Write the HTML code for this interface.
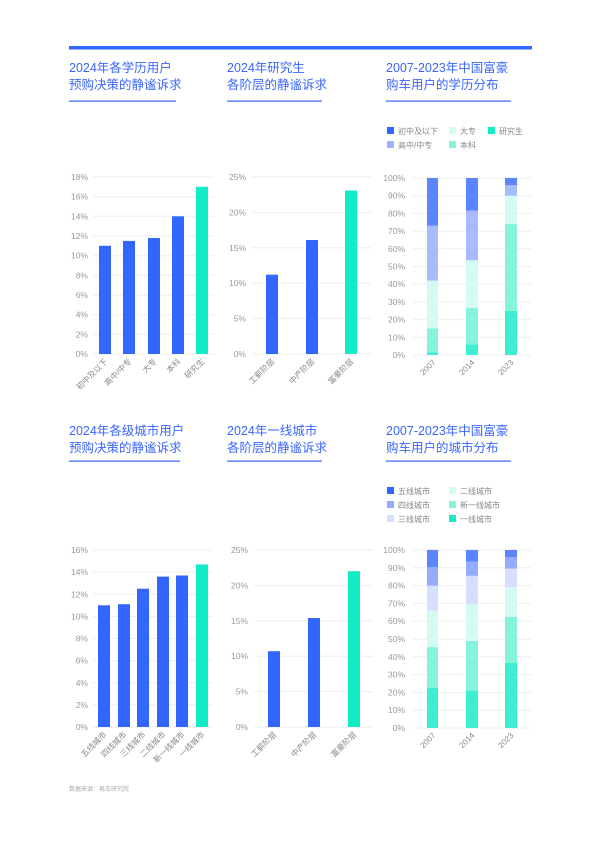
<!DOCTYPE html>
<html><head><meta charset="utf-8"><style>
html,body{margin:0;padding:0;background:#fff}
svg{display:block}
text{font-family:"Liberation Sans","Noto Sans CJK SC",sans-serif}
.t{fill:#3a66ff;font-size:12.5px}
.a{fill:#999;font-size:8.5px}
.l{fill:#888;font-size:8px}
.g{stroke:#eee;stroke-width:1}
</style></head><body>
<svg width="600" height="842" viewBox="0 0 600 842" xmlns="http://www.w3.org/2000/svg">
<rect x="69" y="46" width="463" height="3.5" fill="#3366ff"/>
<!-- titles -->
<text class="t" x="69" y="72">2024年各学历用户</text><text class="t" x="69" y="89">预购决策的静谧诉求</text>
<rect x="69" y="100.5" width="107" height="1.2" fill="#3366ff"/>
<text class="t" x="227" y="72">2024年研究生</text><text class="t" x="227" y="89">各阶层的静谧诉求</text>
<rect x="227" y="100.5" width="95" height="1.2" fill="#3366ff"/>
<text class="t" x="386" y="72">2007-2023年中国富豪</text><text class="t" x="386" y="89">购车用户的学历分布</text>
<rect x="386" y="100.5" width="125" height="1.2" fill="#3366ff"/>

<text class="t" x="69" y="435">2024年各级城市用户</text><text class="t" x="69" y="452">预购决策的静谧诉求</text>
<rect x="69" y="460.5" width="111" height="1.2" fill="#3366ff"/>
<text class="t" x="227" y="435">2024年一线城市</text><text class="t" x="227" y="452">各阶层的静谧诉求</text>
<rect x="227" y="460.5" width="95" height="1.2" fill="#3366ff"/>
<text class="t" x="386" y="435">2007-2023年中国富豪</text><text class="t" x="386" y="452">购车用户的城市分布</text>
<rect x="386" y="460.5" width="125" height="1.2" fill="#3366ff"/>

<!-- chart1 -->
<g class="g">
<line x1="93" x2="214" y1="354" y2="354"/><line x1="93" x2="214" y1="334.3" y2="334.3"/><line x1="93" x2="214" y1="314.7" y2="314.7"/><line x1="93" x2="214" y1="295" y2="295"/><line x1="93" x2="214" y1="275.3" y2="275.3"/><line x1="93" x2="214" y1="255.7" y2="255.7"/><line x1="93" x2="214" y1="236" y2="236"/><line x1="93" x2="214" y1="216.3" y2="216.3"/><line x1="93" x2="214" y1="196.7" y2="196.7"/><line x1="93" x2="214" y1="177" y2="177"/>
</g>
<g class="a" text-anchor="end">
<text x="88" y="357">0%</text><text x="88" y="337.3">2%</text><text x="88" y="317.7">4%</text><text x="88" y="298">6%</text><text x="88" y="278.3">8%</text><text x="88" y="258.7">10%</text><text x="88" y="239">12%</text><text x="88" y="219.3">14%</text><text x="88" y="199.7">16%</text><text x="88" y="180">18%</text>
</g>
<rect x="99" y="245.8" width="12" height="108.2" fill="#3366ff"/>
<rect x="123" y="240.9" width="12" height="113.1" fill="#3366ff"/>
<rect x="148" y="238" width="12" height="116" fill="#3366ff"/>
<rect x="172" y="216.3" width="12" height="137.7" fill="#3366ff"/>
<rect x="196" y="186.8" width="12" height="167.2" fill="#12ecc6"/>
<g class="l" text-anchor="end">
<text transform="translate(108,362) rotate(-45)">初中及以下</text>
<text transform="translate(132,362) rotate(-45)">高中/中专</text>
<text transform="translate(157,362) rotate(-45)">大专</text>
<text transform="translate(181,362) rotate(-45)">本科</text>
<text transform="translate(205,362) rotate(-45)">研究生</text>
</g>

<!-- chart2 -->
<g class="g">
<line x1="252" x2="371" y1="354" y2="354"/><line x1="252" x2="371" y1="318.6" y2="318.6"/><line x1="252" x2="371" y1="283.2" y2="283.2"/><line x1="252" x2="371" y1="247.8" y2="247.8"/><line x1="252" x2="371" y1="212.4" y2="212.4"/><line x1="252" x2="371" y1="177" y2="177"/>
</g>
<g class="a" text-anchor="end">
<text x="246" y="357">0%</text><text x="246" y="321.6">5%</text><text x="246" y="286.2">10%</text><text x="246" y="250.8">15%</text><text x="246" y="215.4">20%</text><text x="246" y="180">25%</text>
</g>
<rect x="266" y="274.7" width="12" height="79.3" fill="#3366ff"/>
<rect x="306" y="240" width="12" height="114" fill="#3366ff"/>
<rect x="345" y="190.5" width="12" height="163.5" fill="#12ecc6"/>
<g class="l" text-anchor="end">
<text transform="translate(275,362) rotate(-45)">工薪阶层</text>
<text transform="translate(315,362) rotate(-45)">中产阶层</text>
<text transform="translate(354,362) rotate(-45)">富豪阶层</text>
</g>

<!-- chart3 legend -->
<rect x="387" y="127" width="7" height="7" fill="#3366ff"/><text class="l" x="398" y="134">初中及以下</text>
<rect x="449" y="127" width="7" height="7" fill="#d4fbf3"/><text class="l" x="460" y="134">大专</text>
<rect x="488" y="127" width="7" height="7" fill="#12ecc6"/><text class="l" x="499" y="134">研究生</text>
<rect x="387" y="141" width="7" height="7" fill="#9cb3ff"/><text class="l" x="398" y="148">高中/中专</text>
<rect x="449" y="141" width="7" height="7" fill="#86f4dd"/><text class="l" x="460" y="148">本科</text>
<!-- chart3 -->
<g class="g">
<line x1="413" x2="531" y1="355" y2="355"/><line x1="413" x2="531" y1="337.3" y2="337.3"/><line x1="413" x2="531" y1="319.6" y2="319.6"/><line x1="413" x2="531" y1="301.9" y2="301.9"/><line x1="413" x2="531" y1="284.2" y2="284.2"/><line x1="413" x2="531" y1="266.5" y2="266.5"/><line x1="413" x2="531" y1="248.8" y2="248.8"/><line x1="413" x2="531" y1="231.1" y2="231.1"/><line x1="413" x2="531" y1="213.4" y2="213.4"/><line x1="413" x2="531" y1="195.7" y2="195.7"/><line x1="413" x2="531" y1="178" y2="178"/>
</g>
<g class="a" text-anchor="end">
<text x="405" y="358">0%</text><text x="405" y="340.3">10%</text><text x="405" y="322.6">20%</text><text x="405" y="304.9">30%</text><text x="405" y="287.2">40%</text><text x="405" y="269.5">50%</text><text x="405" y="251.8">60%</text><text x="405" y="234.1">70%</text><text x="405" y="216.4">80%</text><text x="405" y="198.7">90%</text><text x="405" y="181">100%</text>
</g>
<!-- 2007 -->
<rect x="427" y="352.3" width="11" height="2.7" fill="#3deed0"/>
<rect x="427" y="328.4" width="11" height="23.9" fill="#86f4dd"/>
<rect x="427" y="280.6" width="11" height="47.8" fill="#d4fbf3"/>
<rect x="427" y="225.7" width="11" height="54.9" fill="#a9bbff"/>
<rect x="427" y="178" width="11" height="47.7" fill="#5a85ff"/>
<!-- 2014 -->
<rect x="466" y="344.4" width="12" height="10.6" fill="#3deed0"/>
<rect x="466" y="308.1" width="12" height="36.3" fill="#86f4dd"/>
<rect x="466" y="260.3" width="12" height="47.8" fill="#d4fbf3"/>
<rect x="466" y="210.7" width="12" height="49.6" fill="#a9bbff"/>
<rect x="466" y="178" width="12" height="32.7" fill="#5a85ff"/>
<!-- 2023 -->
<rect x="505" y="310.75" width="12" height="44.25" fill="#3deed0"/>
<rect x="505" y="224" width="12" height="86.75" fill="#86f4dd"/>
<rect x="505" y="195.7" width="12" height="28.3" fill="#d4fbf3"/>
<rect x="505" y="185.1" width="12" height="10.6" fill="#a9bbff"/>
<rect x="505" y="178" width="12" height="7.1" fill="#5a85ff"/>
<g class="l" text-anchor="end">
<text transform="translate(436,363) rotate(-45)">2007</text>
<text transform="translate(475,363) rotate(-45)">2014</text>
<text transform="translate(514,363) rotate(-45)">2023</text>
</g>

<!-- chart4 -->
<g class="g">
<line x1="93" x2="212" y1="727" y2="727"/><line x1="93" x2="212" y1="704.9" y2="704.9"/><line x1="93" x2="212" y1="682.75" y2="682.75"/><line x1="93" x2="212" y1="660.6" y2="660.6"/><line x1="93" x2="212" y1="638.5" y2="638.5"/><line x1="93" x2="212" y1="616.4" y2="616.4"/><line x1="93" x2="212" y1="594.25" y2="594.25"/><line x1="93" x2="212" y1="572.1" y2="572.1"/><line x1="93" x2="212" y1="550" y2="550"/>
</g>
<g class="a" text-anchor="end">
<text x="88" y="730">0%</text><text x="88" y="707.9">2%</text><text x="88" y="685.75">4%</text><text x="88" y="663.6">6%</text><text x="88" y="641.5">8%</text><text x="88" y="619.4">10%</text><text x="88" y="597.25">12%</text><text x="88" y="575.1">14%</text><text x="88" y="553">16%</text>
</g>
<rect x="98" y="605.3" width="12" height="121.7" fill="#3366ff"/>
<rect x="118" y="604.2" width="12" height="122.8" fill="#3366ff"/>
<rect x="137" y="588.7" width="12" height="138.3" fill="#3366ff"/>
<rect x="157" y="576.6" width="12" height="150.4" fill="#3366ff"/>
<rect x="176" y="575.5" width="12" height="151.5" fill="#3366ff"/>
<rect x="196" y="564.4" width="12" height="162.6" fill="#12ecc6"/>
<g class="l" text-anchor="end">
<text transform="translate(107,735) rotate(-45)">五线城市</text>
<text transform="translate(127,735) rotate(-45)">四线城市</text>
<text transform="translate(146,735) rotate(-45)">三线城市</text>
<text transform="translate(166,735) rotate(-45)">二线城市</text>
<text transform="translate(185,735) rotate(-45)">新一线城市</text>
<text transform="translate(205,735) rotate(-45)">一线城市</text>
</g>

<!-- chart5 -->
<g class="g">
<line x1="254" x2="373" y1="727" y2="727"/><line x1="254" x2="373" y1="691.6" y2="691.6"/><line x1="254" x2="373" y1="656.2" y2="656.2"/><line x1="254" x2="373" y1="620.8" y2="620.8"/><line x1="254" x2="373" y1="585.4" y2="585.4"/><line x1="254" x2="373" y1="550" y2="550"/>
</g>
<g class="a" text-anchor="end">
<text x="248" y="730">0%</text><text x="248" y="694.6">5%</text><text x="248" y="659.2">10%</text><text x="248" y="623.8">15%</text><text x="248" y="588.4">20%</text><text x="248" y="553">25%</text>
</g>
<rect x="268" y="651.2" width="12" height="75.8" fill="#3366ff"/>
<rect x="308" y="618" width="12" height="109" fill="#3366ff"/>
<rect x="348" y="571.2" width="12" height="155.8" fill="#12ecc6"/>
<g class="l" text-anchor="end">
<text transform="translate(277,735) rotate(-45)">工薪阶层</text>
<text transform="translate(317,735) rotate(-45)">中产阶层</text>
<text transform="translate(357,735) rotate(-45)">富豪阶层</text>
</g>

<!-- chart6 legend -->
<rect x="387" y="487" width="7" height="7" fill="#3366ff"/><text class="l" x="398" y="494">五线城市</text>
<rect x="449" y="487" width="7" height="7" fill="#d4fbf3"/><text class="l" x="460" y="494">二线城市</text>
<rect x="387" y="501" width="7" height="7" fill="#93acff"/><text class="l" x="398" y="508">四线城市</text>
<rect x="449" y="501" width="7" height="7" fill="#86f4dd"/><text class="l" x="460" y="508">新一线城市</text>
<rect x="387" y="515" width="7" height="7" fill="#d6dfff"/><text class="l" x="398" y="522">三线城市</text>
<rect x="449" y="515" width="7" height="7" fill="#12ecc6"/><text class="l" x="460" y="522">一线城市</text>
<!-- chart6 -->
<g class="g">
<line x1="413" x2="531" y1="728" y2="728"/><line x1="413" x2="531" y1="710.2" y2="710.2"/><line x1="413" x2="531" y1="692.4" y2="692.4"/><line x1="413" x2="531" y1="674.6" y2="674.6"/><line x1="413" x2="531" y1="656.8" y2="656.8"/><line x1="413" x2="531" y1="639" y2="639"/><line x1="413" x2="531" y1="621.2" y2="621.2"/><line x1="413" x2="531" y1="603.4" y2="603.4"/><line x1="413" x2="531" y1="585.6" y2="585.6"/><line x1="413" x2="531" y1="567.8" y2="567.8"/><line x1="413" x2="531" y1="550" y2="550"/>
</g>
<g class="a" text-anchor="end">
<text x="405" y="731">0%</text><text x="405" y="713.2">10%</text><text x="405" y="695.4">20%</text><text x="405" y="677.6">30%</text><text x="405" y="659.8">40%</text><text x="405" y="642">50%</text><text x="405" y="624.2">60%</text><text x="405" y="606.4">70%</text><text x="405" y="588.6">80%</text><text x="405" y="570.8">90%</text><text x="405" y="553">100%</text>
</g>
<!-- 2007 -->
<rect x="427" y="688" width="11" height="40" fill="#3deed0"/>
<rect x="427" y="647.1" width="11" height="40.9" fill="#86f4dd"/>
<rect x="427" y="610.6" width="11" height="36.5" fill="#d4fbf3"/>
<rect x="427" y="585.7" width="11" height="24.9" fill="#d6dfff"/>
<rect x="427" y="567" width="11" height="18.7" fill="#93acff"/>
<rect x="427" y="550" width="11" height="17" fill="#5a85ff"/>
<!-- 2014 -->
<rect x="466" y="690.6" width="12" height="37.4" fill="#3deed0"/>
<rect x="466" y="640.8" width="12" height="49.8" fill="#86f4dd"/>
<rect x="466" y="604.3" width="12" height="36.5" fill="#d4fbf3"/>
<rect x="466" y="575.8" width="12" height="28.5" fill="#d6dfff"/>
<rect x="466" y="561.6" width="12" height="14.2" fill="#93acff"/>
<rect x="466" y="550" width="12" height="11.6" fill="#5a85ff"/>
<!-- 2023 -->
<rect x="505" y="663" width="12" height="65" fill="#3deed0"/>
<rect x="505" y="616.7" width="12" height="46.3" fill="#86f4dd"/>
<rect x="505" y="587.3" width="12" height="29.4" fill="#d4fbf3"/>
<rect x="505" y="568.6" width="12" height="18.7" fill="#d6dfff"/>
<rect x="505" y="557" width="12" height="11.6" fill="#93acff"/>
<rect x="505" y="550" width="12" height="7" fill="#5a85ff"/>
<g class="l" text-anchor="end">
<text transform="translate(436,736) rotate(-45)">2007</text>
<text transform="translate(475,736) rotate(-45)">2014</text>
<text transform="translate(514,736) rotate(-45)">2023</text>
</g>

<text x="69" y="791" fill="#aaa" style="font-size:6px">数据来源：易车研究院</text>
</svg>
</body></html>
